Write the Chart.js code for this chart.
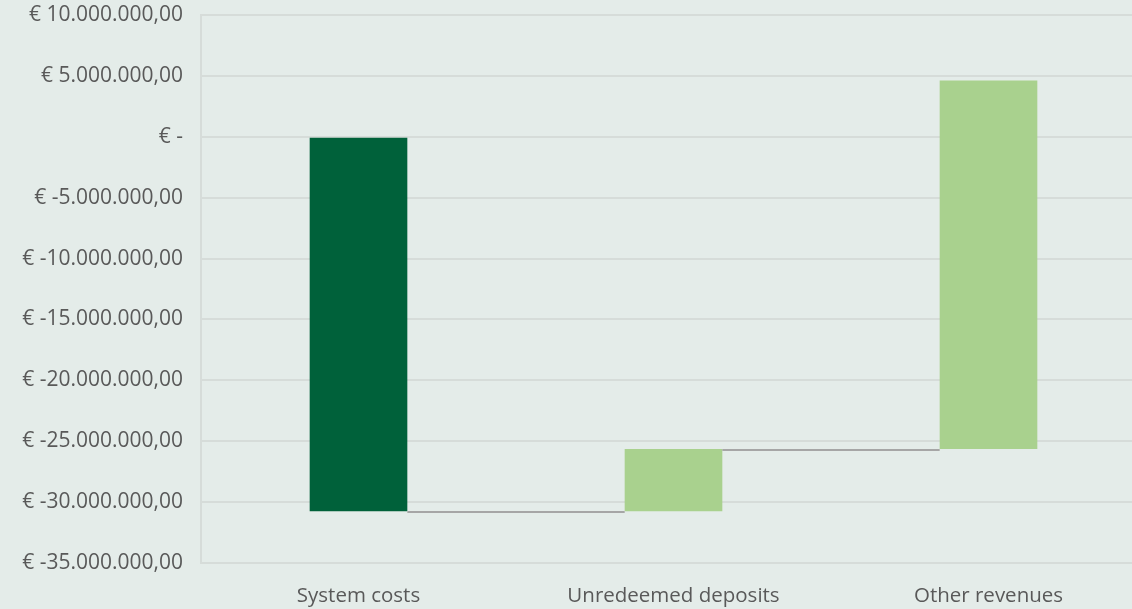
<!DOCTYPE html>
<html>
<head>
<meta charset="utf-8">
<script src="https://cdn.jsdelivr.net/npm/chart.js@4/dist/chart.umd.min.js"></script>
<style>
  html, body { margin: 0; padding: 0; background: #e4ece9; overflow: hidden; }
  #wrap { width: 1146px; height: 609px; position: relative; }
</style>
</head>
<body>
<div id="wrap"><canvas id="chart"></canvas></div>
<script>
const categories = ['System costs', 'Unredeemed deposits', 'Other revenues'];
const changes = [-30750000, 5110000, 30260000];
const barColors = ['#00613a', '#a9d18e', '#a9d18e'];
const yTicks = [10000000, 5000000, 0, -5000000, -10000000, -15000000, -20000000, -25000000, -30000000, -35000000];

// waterfall: each bar floats from the running total before it to the one after it
let running = 0;
const floating = changes.map(c => {
    const start = running;
    running += c;
    return [start, running];
});

function euro(v) {
    if (v === 0) return '€ -';
    const neg = v < 0;
    const s = Math.abs(v).toFixed(0).replace(/\B(?=(\d{3})+(?!\d))/g, '.');
    return '€ ' + (neg ? '-' : '') + s + ',00';
}

const connectors = {
    id: 'connectors',
    afterDatasetsDraw(chart) {
        const meta = chart.getDatasetMeta(0);
        const y = chart.scales.y;
        const ctx = chart.ctx;
        ctx.save();
        ctx.strokeStyle = '#a6a6a6';
        ctx.lineWidth = 2;
        for (let i = 0; i < meta.data.length - 1; i++) {
            const a = meta.data[i], b = meta.data[i + 1];
            const py = Math.round(y.getPixelForValue(floating[i][1])) + 1;
            ctx.beginPath();
            ctx.moveTo(a.x + a.width / 2, py);
            ctx.lineTo(b.x - b.width / 2, py);
            ctx.stroke();
        }
        ctx.restore();
    }
};

new Chart(document.getElementById('chart'), {
    type: 'bar',
    data: {
        labels: categories,
        datasets: [{
            data: floating,
            backgroundColor: barColors,
            borderSkipped: false,
            barPercentage: 0.31,
            categoryPercentage: 1
        }]
    },
    options: {
        responsive: true,
        maintainAspectRatio: false,
        animation: false,
        layout: { padding: { top: 15, right: 0, bottom: 0, left: 0 } },
        plugins: { legend: { display: false }, tooltip: { enabled: false } },
        scales: {
            x: {
                grid: { display: false },
                border: { display: false },
                ticks: { color: '#595959', font: { family: 'Open Sans', size: 20.5 }, padding: 13, maxRotation: 0 },
                afterFit: s => { s.height = 46; }
            },
            y: {
                min: -35000000,
                max: 10000000,
                afterBuildTicks: s => { s.ticks = yTicks.map(v => ({ value: v })); },
                grid: { color: '#d6dcd9', lineWidth: 2, drawTicks: false },
                border: { display: true, color: '#d6dcd9', width: 2 },
                ticks: {
                    color: '#595959',
                    font: { family: 'Open Sans', size: 21 },
                    padding: 18,
                    callback: v => euro(v)
                },
                afterFit: s => { s.width = 201; s.paddingTop = 0; s.paddingBottom = 0; }
            }
        }
    },
    plugins: [connectors]
});
</script>
</body>
</html>
